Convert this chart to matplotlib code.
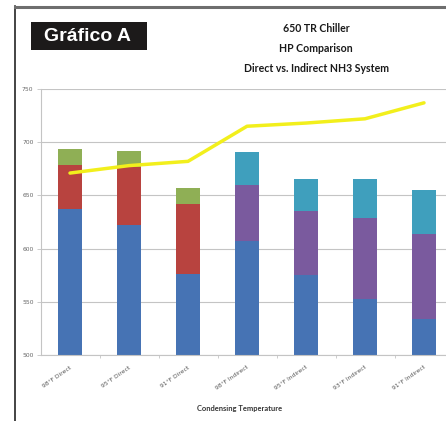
import numpy as np
import matplotlib.pyplot as plt
from matplotlib.lines import Line2D
from matplotlib.patches import Rectangle

# condensing temperature cases
labels = ["98°F Direct", "95°F Direct", "91°F Direct",
          "98°F Indirect", "95°F Indirect", "93°F Indirect", "91°F Indirect"]
direct = [True, True, True, False, False, False, False]

# stacked HP components
compressor_hp = [637, 622, 576, 607, 575, 553, 534]
secondary_hp = [42, 55, 66, 53, 60, 76, 80]
auxiliary_hp = [15, 15, 15, 31, 30, 36, 41]

# total line
total_hp = [671, 678, 682, 715, 718, 722, 737]

yticks = [500, 550, 600, 650, 700, 750]

BLUE = "#4673b4"
RED = "#b8433f"
GREEN = "#8faf55"
PURPLE = "#7a5a9e"
TEAL = "#3f9fbd"
YELLOW = "#f2ef1c"
GRID = "#c4c4c4"

title_font = ["Lato", "DejaVu Sans"]

fig = plt.figure(figsize=(4.46, 4.21), dpi=100)
fig.patch.set_facecolor("white")

x = np.arange(len(labels))
mid_colors = [RED if d else PURPLE for d in direct]
top_colors = [GREEN if d else TEAL for d in direct]

ax = fig.add_axes([40.5 / 446, 1 - 355 / 421, 413 / 446, 266 / 421])
ax.bar(x, compressor_hp, width=0.39, color=BLUE, zorder=2)
ax.bar(x, secondary_hp, width=0.39, bottom=compressor_hp, color=mid_colors, zorder=2)
bottom2 = np.array(compressor_hp) + np.array(secondary_hp)
ax.bar(x, auxiliary_hp, width=0.39, bottom=bottom2, color=top_colors, zorder=2)
ax.plot(x, total_hp, color=YELLOW, lw=2.5, zorder=3, solid_capstyle="round")

ax.set_xlim(-0.5, 6.5)
ax.set_ylim(500, 750)
ax.set_yticks(yticks)
ax.set_yticklabels([str(v) for v in yticks], fontsize=4.3, color="#666666")
ax.grid(axis="y", color=GRID, lw=0.8, zorder=0)
ax.set_axisbelow(True)
ax.tick_params(axis="y", length=3, width=0.6, color=GRID, pad=2)

ax.set_xticks(x)
ax.set_xticklabels(labels, rotation=35, ha="right", rotation_mode="anchor",
                   fontsize=4.3, color="#555555")
ax.tick_params(axis="x", length=0, pad=7)
ax.set_xticks(np.arange(0.5, 6.5, 1), minor=True)
ax.tick_params(axis="x", which="minor", length=2.5, width=0.6, color=GRID)

for side in ["top", "right"]:
    ax.spines[side].set_visible(False)
for side in ["left", "bottom"]:
    ax.spines[side].set_color(GRID)
    ax.spines[side].set_linewidth(0.8)

fig.text(240 / 446, 1 - 409 / 421, "Condensing Temperature", ha="center", va="center",
         fontsize=5.4, fontweight="bold", color="#333333", family=title_font)

# chart title
for txt, ypx in [("650 TR Chiller", 28), ("HP Comparison", 48),
                 ("Direct vs. Indirect NH3 System", 68)]:
    fig.text(316 / 446, 1 - ypx / 421, txt, ha="center", va="center",
             fontsize=7.6, fontweight="bold", color="#1a1a1a", family=title_font)

# page frame
fig.add_artist(Line2D([15 / 446, 15 / 446], [0, 1 - 6 / 421], color="#111111", lw=1.1))
fig.add_artist(Line2D([15 / 446, 1], [1 - 7 / 421, 1 - 7 / 421], color="#6e6e6e", lw=2.2))

# label box
fig.add_artist(Rectangle((31 / 446, 1 - 50 / 421), 116 / 446, 28 / 421,
                         transform=fig.transFigure, facecolor="#1c1a1a", edgecolor="none"))
fig.text(88 / 446, 1 - 36.5 / 421, "Gráfico A", ha="center", va="center",
         fontsize=14, fontweight="bold", color="white", family="Liberation Sans")

fig.savefig("out.png", dpi=100)
